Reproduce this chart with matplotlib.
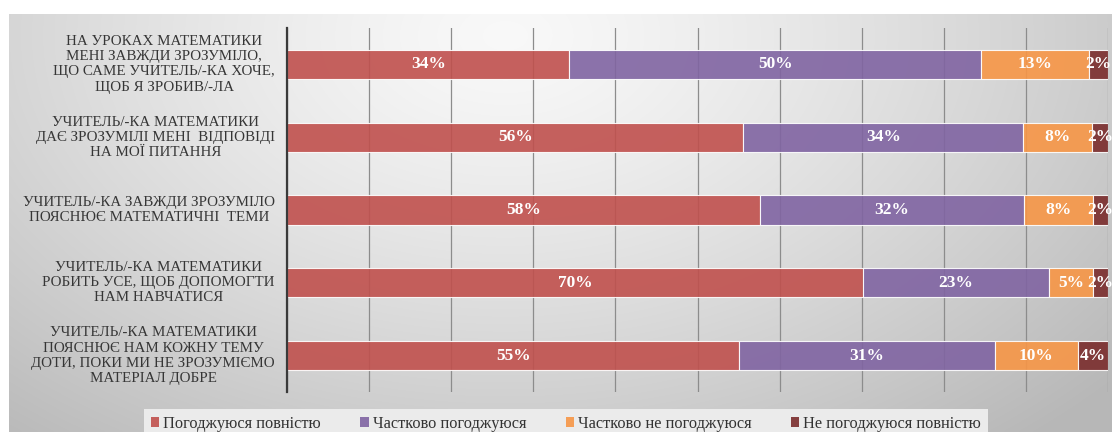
import numpy as np
import matplotlib
matplotlib.use("Agg")
import matplotlib.pyplot as plt
from matplotlib.patches import Patch

# ---- data ----
categories = [
    "НА УРОКАХ МАТЕМАТИКИ\nМЕНІ ЗАВЖДИ ЗРОЗУМІЛО,\nЩО САМЕ УЧИТЕЛЬ/-КА ХОЧЕ,\nЩОБ Я ЗРОБИВ/-ЛА",
    "УЧИТЕЛЬ/-КА МАТЕМАТИКИ\nДАЄ ЗРОЗУМІЛІ МЕНІ  ВІДПОВІДІ\nНА МОЇ ПИТАННЯ",
    "УЧИТЕЛЬ/-КА ЗАВЖДИ ЗРОЗУМІЛО\nПОЯСНЮЄ МАТЕМАТИЧНІ  ТЕМИ",
    "УЧИТЕЛЬ/-КА МАТЕМАТИКИ\nРОБИТЬ УСЕ, ЩОБ ДОПОМОГТИ\nНАМ НАВЧАТИСЯ",
    "УЧИТЕЛЬ/-КА МАТЕМАТИКИ\nПОЯСНЮЄ НАМ КОЖНУ ТЕМУ\nДОТИ, ПОКИ МИ НЕ ЗРОЗУМІЄМО\nМАТЕРІАЛ ДОБРЕ",
]
series_names = ["Погоджуюся повністю", "Частково погоджуюся",
                "Частково не погоджуюся", "Не погоджуюся повністю"]
agree_full = [34.4, 55.6, 57.6, 70.2, 55.1]
agree_part = [50.1, 34.1, 32.2, 22.6, 31.1]
disagree_part = [13.2, 8.4, 8.4, 5.4, 10.1]
disagree_full = [2.3, 1.9, 1.8, 1.8, 3.7]
series = [agree_full, agree_part, disagree_part, disagree_full]
colors = ["#C0504D", "#8064A2", "#F79646", "#7A2C2C"]

plt.rcParams['font.family'] = ['Liberation Serif', 'DejaVu Serif']

W, H = 1112, 432
fig = plt.figure(figsize=(W / 100, H / 100), dpi=100)
fig.patch.set_facecolor("white")

# background gradient panel
bg = fig.add_axes([9 / W, 0, 1 - 9 / W, (H - 14) / H])
bg.set_axis_off()
yy, xx = np.mgrid[0:1:200j, 0:1:500j]
r = np.sqrt(((xx - 0.45) / 0.72) ** 2 + ((yy - 0.05) / 1.25) ** 2)
val = np.clip(0.975 - 0.25 * r ** 1.3, 0.72, 1)
img = np.dstack([val, val, val])
bg.imshow(img, aspect="auto", extent=[0, 1, 1, 0], interpolation="bilinear")
bg.set_xlim(0, 1)
bg.set_ylim(1, 0)

ax = fig.add_axes([287 / W, (H - 392) / H, (1108 - 287) / W, (392 - 28) / H])
ax.patch.set_visible(False)
y = np.arange(len(categories))
left = np.zeros(len(categories))
for vals, col, name in zip(series, colors, series_names):
    vals = np.array(vals)
    ax.barh(y, vals, left=left, height=0.4, color=col, alpha=0.9,
            edgecolor=(1, 1, 1, 0.6), linewidth=0.8, label=name, zorder=3)
    for yi, l, v in zip(y, left, vals):
        ax.text(l + v / 2, yi, f"{round(v):d}%", ha="center", va="center",
                color="white", fontsize=12.5, fontweight="bold", zorder=4)
    left += vals

ax.set_xlim(0, 100)
ax.set_ylim(len(categories) - 0.5, -0.5)
ax.set_xticks(np.arange(0, 101, 10))
ax.set_xticklabels([])
ax.tick_params(axis="both", length=0)
ax.set_yticks(y)
ax.set_yticklabels([])
ax.grid(axis="x", color="#8C8C8C", linewidth=0.9, zorder=1)
for s in ["top", "right", "bottom"]:
    ax.spines[s].set_visible(False)
ax.spines["left"].set_color("#3A3A3A")
ax.spines["left"].set_linewidth(1.6)
ax.spines["left"].set_zorder(5)

for yi, lab in zip(y, categories):
    ax.annotate(lab, xy=(0, yi), xycoords=("axes fraction", "data"),
                xytext=(-12, 0), textcoords="offset pixels",
                ha="right", va="center", multialignment="center",
                fontsize=10.8, color="#363636", linespacing=1.22)

handles = [Patch(facecolor=c, alpha=0.9) for c in colors]
leg = fig.legend(handles, series_names, loc="lower center", ncol=4,
                 bbox_to_anchor=(566 / W, -0.015), frameon=True,
                 facecolor="#EBEBEB", edgecolor="none", fancybox=False,
                 framealpha=1, fontsize=11.8, handlelength=0.5,
                 handleheight=0.5, handletextpad=0.25, columnspacing=2.4,
                 borderpad=0.4, borderaxespad=0)
for t in leg.get_texts():
    t.set_color("#333333")

fig.savefig("out.png", dpi=100)
